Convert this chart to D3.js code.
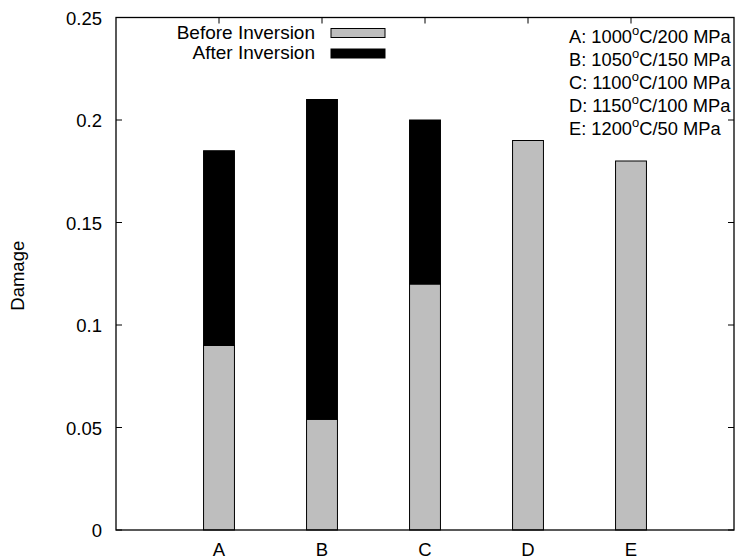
<!DOCTYPE html>
<html>
<head>
<meta charset="utf-8">
<script src="https://cdn.jsdelivr.net/npm/d3@7"></script>
<style>
  html, body { margin: 0; padding: 0; background: #fff; }
  svg { display: block; }
  text { font-family: "Liberation Sans", Arial, Helvetica, sans-serif; fill: #000; }
</style>
</head>
<body>
<script>
// Damage per test condition, split into the part before and after inversion
const categories = ["A", "B", "C", "D", "E"];
const beforeInversion = [0.09, 0.054, 0.12, 0.19, 0.18];
const afterInversion = [0.095, 0.156, 0.08, 0, 0];
const yTicks = [0, 0.05, 0.1, 0.15, 0.2, 0.25];
const seriesNames = ["Before Inversion", "After Inversion"];
const conditions = [
  { key: "A", temp: "1000", stress: "200 MPa" },
  { key: "B", temp: "1050", stress: "150 MPa" },
  { key: "C", temp: "1100", stress: "100 MPa" },
  { key: "D", temp: "1150", stress: "100 MPa" },
  { key: "E", temp: "1200", stress: "50 MPa" }
];

const W = 737, H = 560;
const m = { left: 116, right: 734, top: 17.5, bottom: 530 };
const fillColors = ["#bebebe", "#000000"];

const svg = d3.select("body").append("svg").attr("width", W).attr("height", H);

const x = d3.scaleLinear().domain([0, categories.length + 1]).range([m.left, m.right]);
const y = d3.scaleLinear().domain([0, 0.25]).range([m.bottom, m.top]);
const barW = x(0.3) - x(0);

// tick marks (inward, mirrored on opposite sides)
const ticks = svg.append("g").attr("stroke", "#000").attr("stroke-width", 1);
yTicks.forEach(v => {
  ticks.append("line").attr("x1", m.left).attr("x2", m.left + 6).attr("y1", y(v)).attr("y2", y(v));
  ticks.append("line").attr("x1", m.right).attr("x2", m.right - 6).attr("y1", y(v)).attr("y2", y(v));
});
categories.forEach((c, i) => {
  ticks.append("line").attr("x1", x(i + 1)).attr("x2", x(i + 1)).attr("y1", m.top).attr("y2", m.top + 6);
  ticks.append("line").attr("x1", x(i + 1)).attr("x2", x(i + 1)).attr("y1", m.bottom).attr("y2", m.bottom - 6);
});

// stacked bars
const stackData = categories.map((c, i) => ({ cat: c, idx: i, before: beforeInversion[i], after: afterInversion[i] }));
const stack = d3.stack().keys(["before", "after"])(stackData);
stack.forEach((layer, li) => {
  svg.append("g").selectAll("rect").data(layer.filter(d => d[1] - d[0] > 0)).join("rect")
    .attr("x", d => x(d.data.idx + 1) - barW / 2)
    .attr("width", barW)
    .attr("y", d => y(d[1]))
    .attr("height", d => y(d[0]) - y(d[1]))
    .attr("fill", fillColors[li])
    .attr("stroke", "#000")
    .attr("stroke-width", 1);
});

// frame
svg.append("rect")
  .attr("x", m.left).attr("y", m.top)
  .attr("width", m.right - m.left).attr("height", m.bottom - m.top)
  .attr("fill", "none").attr("stroke", "#000").attr("stroke-width", 1.3);

// y tick labels
svg.append("g").selectAll("text").data(yTicks).join("text")
  .attr("x", 102).attr("y", d => y(d) + 7)
  .attr("text-anchor", "end")
  .attr("font-size", 18.5)
  .text(d => d3.format("")(d));

// x tick labels
svg.append("g").selectAll("text").data(categories).join("text")
  .attr("x", (d, i) => x(i + 1)).attr("y", 556)
  .attr("text-anchor", "middle")
  .attr("font-size", 18.5)
  .text(d => d);

// y axis title
svg.append("text")
  .attr("transform", `translate(24, ${(m.top + m.bottom) / 2 + 2}) rotate(-90)`)
  .attr("text-anchor", "middle")
  .attr("font-size", 18.5)
  .text("Damage");

// series key
const key = svg.append("g");
seriesNames.forEach((name, i) => {
  const by = 38.5 + i * 20.5;
  key.append("text").attr("x", 315).attr("y", by).attr("text-anchor", "end")
    .attr("font-size", 19).text(name);
  key.append("rect").attr("x", 331).attr("y", by - 10).attr("width", 54).attr("height", 9)
    .attr("fill", fillColors[i]).attr("stroke", "#000").attr("stroke-width", 1);
});

// condition key
const cond = svg.append("g");
conditions.forEach((c, i) => {
  const t = cond.append("text").attr("x", 569).attr("y", 42.7 + i * 23).attr("font-size", 18.3);
  t.append("tspan").text(`${c.key}: ${c.temp}`);
  t.append("tspan").attr("font-size", 13).attr("dy", -8).text("o");
  t.append("tspan").attr("dy", 8).text(`C/${c.stress}`);
});
</script>
</body>
</html>
